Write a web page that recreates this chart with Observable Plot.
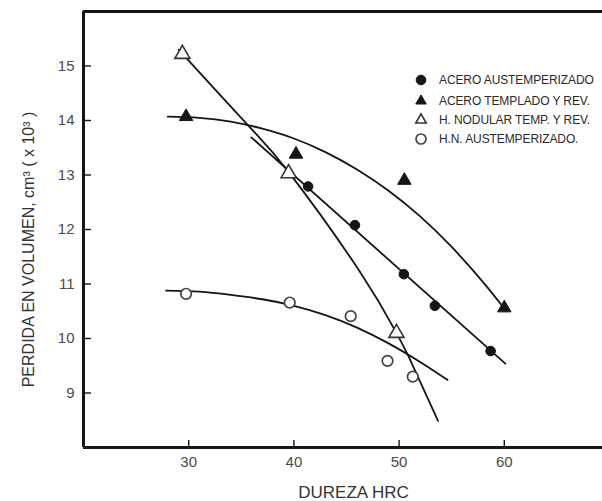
<!DOCTYPE html>
<html><head><meta charset="utf-8">
<script src="https://cdn.jsdelivr.net/npm/d3@7"></script>
<script src="https://cdn.jsdelivr.net/npm/@observablehq/plot@0.6"></script>
<style>
body{margin:0;background:#fff;}
#wrap{position:relative;width:602px;height:501px;font-family:"Liberation Sans",Arial,sans-serif;}
#legend{position:absolute;left:413px;top:69px;font-size:12px;color:#2a2a2a;letter-spacing:-0.1px;}
#legend .row{display:flex;align-items:center;height:19px;}
#legend .row:first-child{height:22px;}
#legend svg{width:16px;height:14px;margin-right:10px;overflow:visible;}
</style></head><body><div id="wrap"></div>
<script>
// ---- data ----
const seriesNames = ["ACERO AUSTEMPERIZADO", "ACERO TEMPLADO Y REV.", "H. NODULAR TEMP. Y REV.", "H.N. AUSTEMPERIZADO."];

// measured points (DUREZA HRC, PERDIDA EN VOLUMEN x10^3 cm^3)
const aceroAustX = [41.35, 45.8, 50.45, 53.4, 58.7];
const aceroAustY = [12.79, 12.08, 11.18, 10.6, 9.77];
const aceroTempX = [29.75, 40.2, 50.5, 60.0];
const aceroTempY = [14.07, 13.38, 12.9, 10.56];
const nodularX = [29.4, 39.5, 49.75];
const nodularY = [15.22, 13.03, 10.1];
const hnAustX = [29.75, 39.6, 45.4, 48.9, 51.3];
const hnAustY = [10.82, 10.66, 10.41, 9.59, 9.3];

// fitted curves as drawn in the figure
const aceroAustFitX = [35.95, 60.1];
const aceroAustFitY = [13.69, 9.54];
const aceroTempFitX = [28.0, 31, 34, 37, 40, 43, 46, 49, 52, 55, 58, 60.2];
const aceroTempFitY = [14.07, 14.05, 13.98, 13.85, 13.67, 13.42, 13.1, 12.71, 12.24, 11.68, 11.03, 10.5];
const nodularFitX = [29.05, 35.8, 39.6, 46.26, 49.75, 51.0, 53.7];
const nodularFitY = [15.3, 13.88, 13.03, 11.23, 10.1, 9.63, 8.49];
const hnAustFitX = [27.85, 31, 34, 37, 40, 43, 46, 49, 52, 54.6];
const hnAustFitY = [10.88, 10.86, 10.8, 10.72, 10.6, 10.43, 10.2, 9.91, 9.57, 9.24];

const xTicks = [30, 40, 50, 60];
const yTicks = [9, 10, 11, 12, 13, 14, 15];
const xDomain = [20, 70];
const yDomain = [8, 16];
const xTitle = "DUREZA HRC";
const yTitle = "PERDIDA EN VOLUMEN, cm³ ( x 10³ )";

// ---- tables ----
const pointSets = [[aceroAustX, aceroAustY], [aceroTempX, aceroTempY], [nodularX, nodularY], [hnAustX, hnAustY]];
const fitSets = [[aceroAustFitX, aceroAustFitY], [aceroTempFitX, aceroTempFitY], [nodularFitX, nodularFitY], [hnAustFitX, hnAustFitY]];
const toRows = sets => sets.flatMap(([xs, ys], k) => xs.map((x, i) => ({series: seriesNames[k], x, y: ys[i]})));
const points = toRows(pointSets);
const fits = toRows(fitSets);

const ink = "#151515";
const markStyle = [
  {symbol: "circle", fill: ink, stroke: ink, strokeWidth: 1, r: 4.8},
  {symbol: "triangle", fill: ink, stroke: ink, strokeWidth: 1, r: 5},
  {symbol: "triangle", fill: "white", stroke: "#333", strokeWidth: 1.6, r: 5.6},
  {symbol: "circle", fill: "white", stroke: "#444", strokeWidth: 1.7, r: 5.3}
];

const chart = Plot.plot({
  width: 602, height: 501,
  marginLeft: 83, marginRight: -7, marginTop: 11, marginBottom: 54,
  style: {fontFamily: '"Liberation Sans", Arial, sans-serif', fontSize: "15px", color: "#4a4a4a", background: "white"},
  x: {domain: xDomain},
  y: {domain: yDomain},
  marks: [
    Plot.line(fits, {x: "x", y: "y", z: "series", curve: "natural", stroke: ink, strokeWidth: 1.8}),
    ...seriesNames.map((s, k) => Plot.dot(points.filter(d => d.series === s), {x: "x", y: "y", ...markStyle[k]})),
    Plot.ruleX([xDomain[0]], {stroke: ink, strokeWidth: 3}),
    Plot.ruleY(yDomain, {stroke: ink, strokeWidth: 3}),
    Plot.axisX({ticks: xTicks, tickSize: -7, stroke: ink, strokeWidth: 1.4, label: null, fontSize: 15}),
    Plot.axisY({ticks: yTicks, tickSize: -8, stroke: ink, strokeWidth: 1.4, label: null, fontSize: 15}),
    Plot.text([xTitle], {text: d => d, frameAnchor: "bottom", textAnchor: "middle", lineAnchor: "middle", dx: 7, dy: 45, fontSize: 17, fill: "#333"}),
    Plot.text([yTitle], {text: d => d, frameAnchor: "left", textAnchor: "middle", lineAnchor: "middle", rotate: -90, dx: -55, dy: 20, fontSize: 16, fill: "#333"})
  ]
});

const wrap = document.getElementById("wrap");
wrap.appendChild(chart);

// legend placed inside the plot frame, as in the reference
const legend = document.createElement("div");
legend.id = "legend";
const shapeSvg = k => {
  const st = markStyle[k];
  const r = Math.min(st.r, 5);
  const shape = st.symbol === "circle"
    ? `<circle cx="7" cy="7" r="${r}" fill="${st.fill}" stroke="${st.stroke}" stroke-width="${st.strokeWidth}"/>`
    : `<path d="${d3.symbol(d3.symbolTriangle2, Math.PI * r * r)()}" transform="translate(7,7)" fill="${st.fill}" stroke="${st.stroke}" stroke-width="${st.strokeWidth}"/>`;
  return `<svg viewBox="0 0 14 14">${shape}</svg>`;
};
legend.innerHTML = seriesNames.map((s, k) => `<div class="row">${shapeSvg(k)}<span>${s}</span></div>`).join("");
wrap.appendChild(legend);
</script></body></html>
